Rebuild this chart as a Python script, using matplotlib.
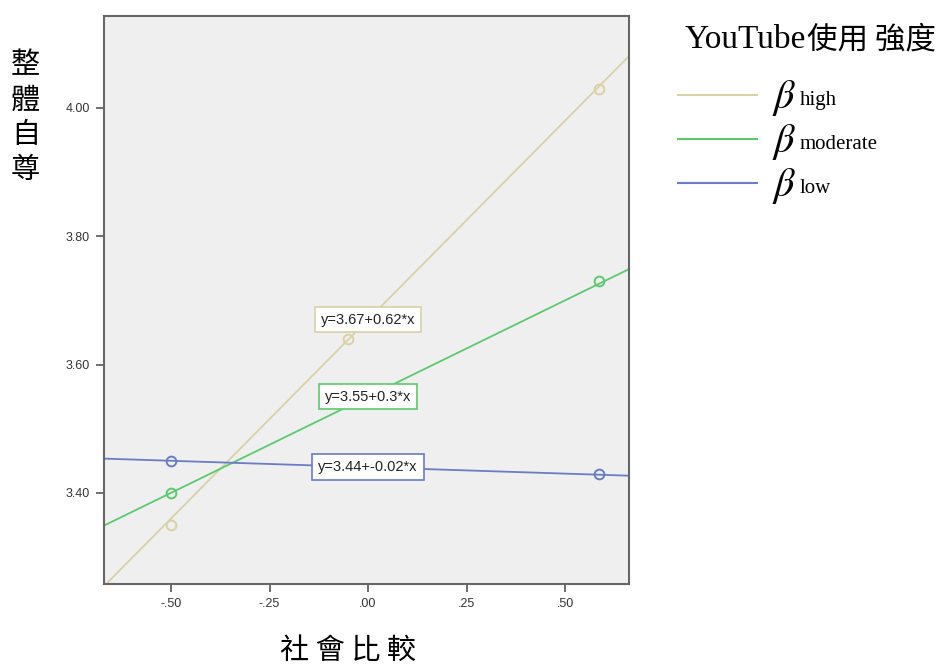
import numpy as np
import matplotlib
matplotlib.use("Agg")
import matplotlib.pyplot as plt

# =========================
# DATA
# =========================
groups = ["high", "moderate", "low"]
intercepts = [3.67, 3.55, 3.44]
slopes = [0.62, 0.30, -0.02]
eq_labels = ["y=3.67+0.62*x", "y=3.55+0.3*x", "y=3.44+-0.02*x"]

# group means plotted as open circles
point_x = {
    "high": [-0.50, -0.05, 0.585],
    "moderate": [-0.50, 0.585],
    "low": [-0.50, 0.585],
}
point_y = {
    "high": [3.35, 3.64, 4.03],
    "moderate": [3.40, 3.73],
    "low": [3.45, 3.43],
}

colors = {"high": "#d8d2a6", "moderate": "#5cc96e", "low": "#6a7cc4"}

x_ticks = [-0.50, -0.25, 0.00, 0.25, 0.50]
x_tick_labels = ["-.50", "-.25", ".00", ".25", ".50"]
y_ticks = [3.40, 3.60, 3.80, 4.00]
y_tick_labels = ["3.40", "3.60", "3.80", "4.00"]

XLIM = (-0.67, 0.662)
YLIM = (3.258, 4.143)

plt.rcParams["font.family"] = ["Liberation Sans", "DejaVu Sans"]
plt.rcParams["mathtext.fontset"] = "stix"

fig = plt.figure(figsize=(9.46, 6.66), dpi=100)
ax = fig.add_axes([0.1099, 0.1231, 0.555, 0.8529])
ax.set_facecolor("#efefef")

xs = np.array(XLIM)
for g, a, b, lab in zip(groups, intercepts, slopes, eq_labels):
    c = colors[g]
    ax.plot(xs, a + b * xs, color=c, lw=1.3, zorder=2)
    ax.plot(point_x[g], point_y[g], "o", ms=7, mfc="none", mec=c, mew=1.4, zorder=3)
    ax.text(0.0, a, lab, ha="center", va="center", fontsize=10.5, color="#222222",
            bbox=dict(boxstyle="square,pad=0.4", fc="white", ec=c, lw=1.2), zorder=4)

ax.set_xlim(*XLIM)
ax.set_ylim(*YLIM)
ax.set_xticks(x_ticks)
ax.set_xticklabels(x_tick_labels)
ax.set_yticks(y_ticks)
ax.set_yticklabels(y_tick_labels)
ax.tick_params(direction="out", length=6, width=1.2, colors="#555555",
               labelsize=9, labelcolor="#333333", pad=4)
for s in ax.spines.values():
    s.set_color("#666666")
    s.set_linewidth(1.5)

cjk = ["Noto Sans CJK TC", "DejaVu Sans"]
fig.text(0.368, 0.0225, "社 會 比 較", ha="center", va="center", fontsize=21,
         family=cjk)
fig.text(0.027, 0.823, "整\n體\n自\n尊", ha="center", va="center", fontsize=21,
         family=cjk, linespacing=1.22)

# legend drawn by hand to the right of the axes
t1 = fig.text(0.724, 0.94, "YouTube", ha="left", va="center", fontsize=24,
              family=["Liberation Serif"])
fig.canvas.draw()
bb = t1.get_window_extent().transformed(fig.transFigure.inverted())
fig.text(bb.x1 + 0.001, 0.94, "使用 強度", ha="left", va="center", fontsize=22,
         family=cjk)

leg_y = [0.857, 0.791, 0.725]
for g, yy in zip(groups, leg_y):
    fig.add_artist(plt.Line2D([0.717, 0.8], [yy, yy], color=colors[g], lw=1.5,
                              transform=fig.transFigure))
    fig.text(0.816, yy - 0.004, r"$\beta$", ha="left", va="center", fontsize=29)
    fig.text(0.845, yy - 0.008, g, ha="left", va="center", fontsize=15,
             family=["Liberation Serif"])

fig.savefig("out.png", dpi=100)
